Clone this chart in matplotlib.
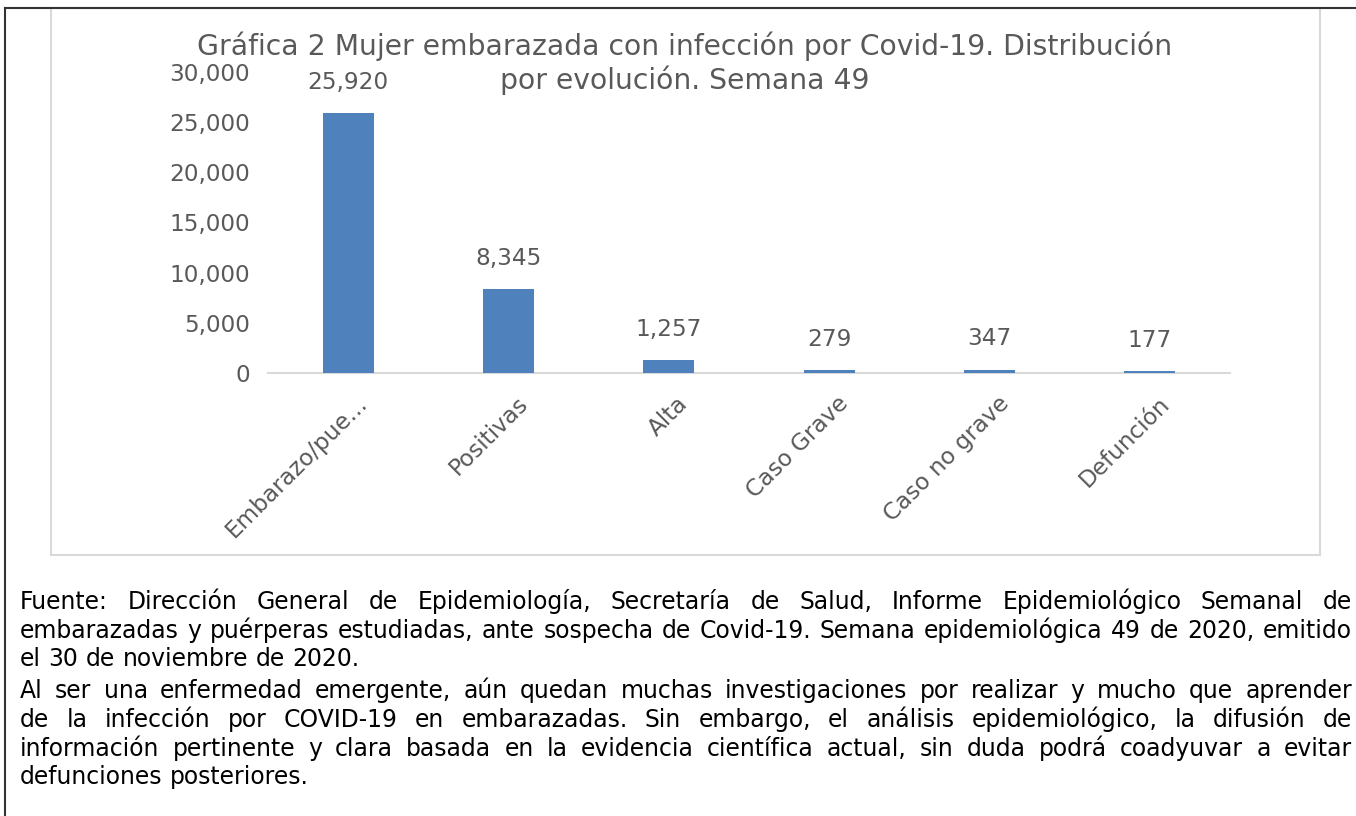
import matplotlib
matplotlib.use('Agg')
import matplotlib.pyplot as plt
from matplotlib.lines import Line2D
from matplotlib.patches import Rectangle
import matplotlib.transforms as mtransforms
import numpy as np

plt.rcParams['font.family'] = ['DejaVu Sans']

categories = ['Embarazo/pue...', 'Positivas', 'Alta', 'Caso Grave', 'Caso no grave', 'Defunción']
values = [25920, 8345, 1257, 279, 347, 177]
yticks = [0, 5000, 10000, 15000, 20000, 25000, 30000]

title_lines = ['Gráfica 2 Mujer embarazada con infección por Covid-19. Distribución',
               'por evolución. Semana 49']

# lines of the note, with a flag: justified or not
note_lines = [
    ('Fuente: Dirección General de Epidemiología, Secretaría de Salud, Informe Epidemiológico Semanal de', True),
    ('embarazadas y puérperas estudiadas, ante sospecha de Covid-19. Semana epidemiológica 49 de 2020, emitido', True),
    ('el 30 de noviembre de 2020.', False),
    ('Al ser una enfermedad emergente, aún quedan muchas investigaciones por realizar y mucho que aprender', True),
    ('de la infección por COVID-19 en embarazadas. Sin embargo, el análisis epidemiológico, la difusión de', True),
    ('información pertinente y clara basada en la evidencia científica actual, sin duda podrá coadyuvar a evitar', True),
    ('defunciones posteriores.', False),
]
note_base = [609, 638, 666, 698, 727, 756, 784]

W, H = 1356, 816
BAR = '#4F81BD'
GRAY_TXT = '#595959'

fig = plt.figure(figsize=(W / 100, H / 100), dpi=100)
fig.patch.set_facecolor('white')
renderer = fig.canvas.get_renderer()

def fx(px):
    return px / W

def fy(py):
    return 1 - py / H

def measure(s, size):
    t = fig.text(0, 0, s, fontsize=size)
    w = t.get_window_extent(renderer).width
    t.remove()
    return w

def fit_size(s, target):
    return 10 * target / measure(s, 10)

title_size = fit_size(title_lines[0], 976)
tick_size = fit_size('30,000', 80)
note_size = fit_size(note_lines[1][0], 1322)

# frame lines
fig.add_artist(Line2D([fx(5), fx(5)], [fy(8), fy(816)], color='#333333', lw=1.5))
fig.add_artist(Line2D([fx(5), fx(1356)], [fy(8), fy(8)], color='#333333', lw=1.5))
fig.add_artist(Rectangle((fx(51), fy(555)), fx(1320) - fx(51), fy(8) - fy(555),
                         transform=fig.transFigure, fill=False, ec='#D9D9D9', lw=1.5))

ax = fig.add_axes([fx(268), fy(373), fx(1230) - fx(268), fy(72) - fy(373)])
x = np.arange(len(categories))
bars = ax.bar(x, values, width=0.32, color=BAR, zorder=3)
ax.set_xlim(-0.5, len(categories) - 0.5)
ax.set_ylim(0, 30000)
ax.set_yticks(yticks)
ax.set_yticklabels([f'{v:,}' for v in yticks], fontsize=tick_size, color=GRAY_TXT)
ax.tick_params(axis='y', length=0, pad=13)
ax.tick_params(axis='x', length=0)
ax.set_xticks(x)
ax.set_xticklabels([])
for s in ['top', 'right', 'left']:
    ax.spines[s].set_visible(False)
ax.spines['bottom'].set_color('#D9D9D9')
ax.spines['bottom'].set_linewidth(1.5)

for bar, v in zip(bars, values):
    ax.annotate(f'{v:,}', (bar.get_x() + bar.get_width() / 2, v),
                xytext=(0, 22), textcoords='offset points',
                ha='center', va='center', fontsize=tick_size, color=GRAY_TXT)

# rotated category labels
trans = mtransforms.blended_transform_factory(ax.transData, ax.transAxes)
offset = mtransforms.ScaledTranslation(16 / 100, -27 / 100, fig.dpi_scale_trans)
for i, c in enumerate(categories):
    ax.text(i, 0, c, transform=trans + offset, rotation=45, rotation_mode='anchor',
            ha='right', va='center', fontsize=tick_size, color=GRAY_TXT)

for line, yy in zip(title_lines, [46, 80]):
    fig.text(fx(685), fy(yy), line, ha='center', va='center', fontsize=title_size,
             color=GRAY_TXT)

# justified note below the chart
x0, x1 = 20, 1352
space = measure('a a', note_size) - measure('aa', note_size)
for (line, just), yy in zip(note_lines, note_base):
    words = line.split(' ')
    texts = [fig.text(0, fy(yy), w_, fontsize=note_size, color='black',
                      ha='left', va='baseline') for w_ in words]
    widths = [t.get_window_extent(renderer).width for t in texts]
    if just:
        gap = (x1 - x0 - sum(widths)) / (len(words) - 1)
    else:
        gap = space
    xx = x0
    for t, w_ in zip(texts, widths):
        t.set_x(fx(xx))
        xx += w_ + gap

fig.savefig('out.png', dpi=100)
